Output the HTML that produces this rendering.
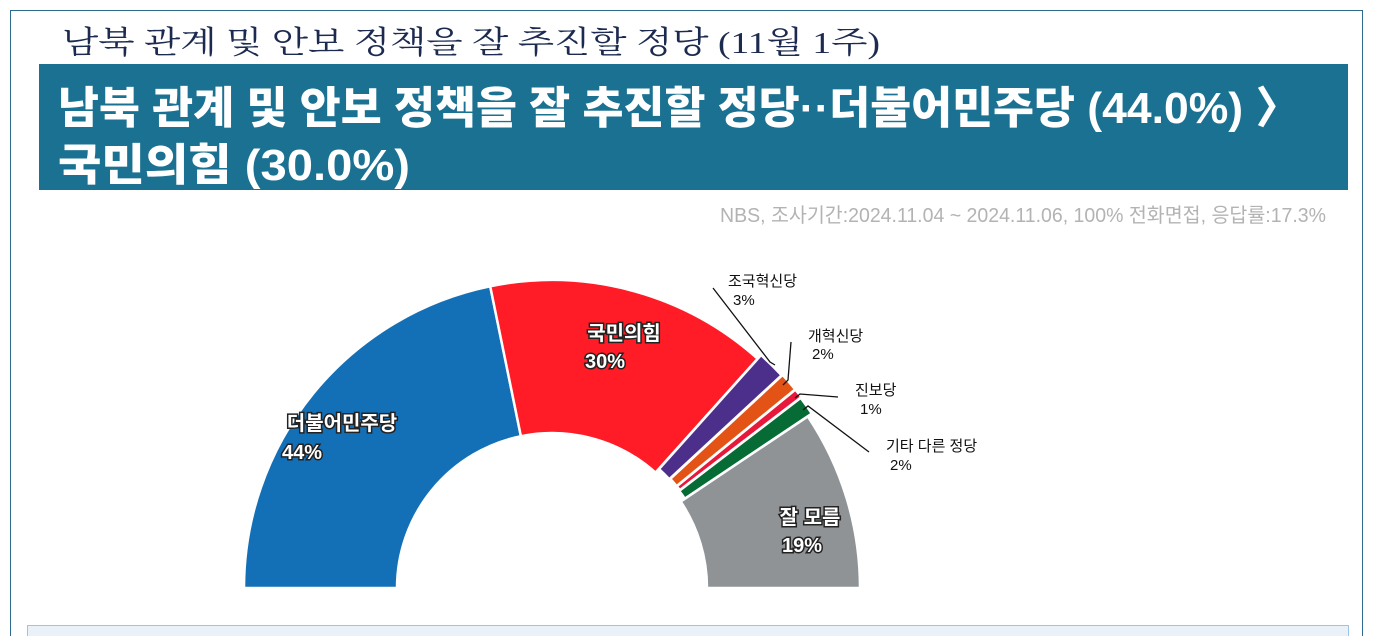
<!DOCTYPE html>
<html><head><meta charset="utf-8"><style>
html,body{margin:0;padding:0;background:#fff;}
svg{display:block;}
.t{font-family:"Liberation Sans","Noto Sans CJK KR",sans-serif;}
</style></head><body>
<svg id="s" width="1381" height="636" viewBox="0 0 1381 636" xmlns="http://www.w3.org/2000/svg">
<rect x="10.5" y="10.5" width="1352" height="640" fill="none" stroke="#2d6c8e" stroke-width="1"/>
<text x="62" y="53" font-family="'Liberation Serif','Noto Serif CJK SC',serif" font-size="31" fill="#1c2a50" textLength="818" lengthAdjust="spacingAndGlyphs">남북 관계 및 안보 정책을 잘 추진할 정당 (11월 1주)</text>
<rect x="39" y="64" width="1309" height="126" fill="#1b7191"/>
<text class="t" x="58" y="123" font-size="44" font-weight="900" fill="#fff" textLength="1242" lengthAdjust="spacingAndGlyphs">남북 관계 및 안보 정책을 잘 추진할 정당··더불어민주당 (44.0%) 〉</text>
<text class="t" x="58" y="180" font-size="44" font-weight="900" fill="#fff" textLength="352" lengthAdjust="spacingAndGlyphs">국민의힘 (30.0%)</text>
<text class="t" x="720" y="222" font-size="20" fill="#b3b3b3" textLength="606" lengthAdjust="spacingAndGlyphs">NBS, 조사기간:2024.11.04 ~ 2024.11.06, 100% 전화면접, 응답률:17.3%</text>
<g id="pie"></g>
<g stroke="#111" stroke-width="1.3" fill="none">
<polyline points="713,288 770,362 775,365"/>
<polyline points="791,342 788,380 783,385"/>
<polyline points="838,397 800,394 795,398"/>
<polyline points="869,452 808,406 803,410"/>
</g>
<g class="t" font-size="15" fill="#111">
<text x="728" y="286">조국혁신당</text><text x="733" y="305">3%</text>
<text x="808" y="341">개혁신당</text><text x="812" y="359">2%</text>
<text x="855" y="395">진보당</text><text x="860" y="414">1%</text>
<text x="886" y="451">기타 다른 정당</text><text x="890" y="470">2%</text>
</g>
<g class="t" font-size="20" font-weight="bold" fill="#fff" stroke="#222" stroke-width="3" paint-order="stroke" text-anchor="middle">
<text x="342" y="430">더불어민주당</text><text x="302" y="459">44%</text>
<text x="624" y="340">국민의힘</text><text x="605" y="368">30%</text>
<text x="810" y="524">잘 모름</text><text x="802" y="552">19%</text>
</g>
<rect x="27.5" y="625.5" width="1321" height="20" fill="#eaf1f9" stroke="#9cc4e4"/>
</svg>
<script>
var cx=552,cy=588,R=308,r=155;
var d=[[44,"#1470b6",0],[30,"#ff1c26",0],[3,"#4b2f8a",5],[2,"#e25315",6],[1,"#e8183a",6],[2,"#076b35",5],[19,"#8f9396",0]];
var tot=101,a=Math.PI,g=document.getElementById("pie"),h="";
function p(rad,ang,ox,oy){return (cx+ox+rad*Math.cos(ang)).toFixed(1)+","+(cy+oy-rad*Math.sin(ang)).toFixed(1);}
d.forEach(function(s){var sp=s[0]/tot*Math.PI,a2=a-sp,m=(a+a2)/2,ox=s[2]*Math.cos(m),oy=-s[2]*Math.sin(m);
h+='<path d="M'+p(R,a,ox,oy)+' A'+R+','+R+' 0 0 1 '+p(R,a2,ox,oy)+' L'+p(r,a2,ox,oy)+' A'+r+','+r+' 0 0 0 '+p(r,a,ox,oy)+' Z" fill="'+s[1]+'" stroke="#fff" stroke-width="2.5" stroke-linejoin="round"/>';a=a2;});
g.innerHTML=h;
</script>
</body></html>
